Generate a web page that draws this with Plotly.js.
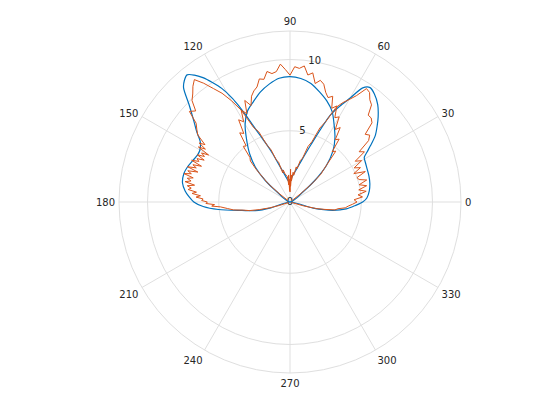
<!DOCTYPE html>
<html><head><meta charset="utf-8">
<script src="https://cdn.plot.ly/plotly-3.0.1.min.js"></script>
<style>html,body{margin:0;padding:0;background:#fff}#chart{width:560px;height:420px}</style>
</head><body><div id="chart"></div>
<script>
// Smooth pattern (blue): wings and central lobe
const blueWingTheta = [-18,-15,-11,-7,-3,0,3,8,13,18,24,28,31,33,35,38,41,44,48,52,55,57.5,60,62,65,70,75,80,85,90,95,100,105,110,112,114,116,117,118,119,121,123,125,127,129,131,133,136,140,143,146,150,153,157,161,165,170,174,177,180,183,186,190,194,197,200];
const blueWingR = [0,1.68,3.07,3.98,4.6,5.1,5.4,5.62,5.75,5.83,5.9,5.98,6.08,6.45,6.9,7.6,8.1,8.6,9.2,9.62,9.8,9.5,8.4,7.75,6.76,4.26,2.93,2.21,1.79,1.4,1.5,1.86,2.46,3.68,4.32,5.05,6.1,6.88,7.6,8.3,9.3,10.0,10.65,11.15,11.48,11.3,10.95,9.85,8.8,8.2,7.6,7.3,7.28,7.42,7.6,7.71,7.66,7.4,7.1,6.75,6.1,5.05,3.42,2.51,1.4,0];
const blueLobeTheta = [36,38,41,45,50,55,60,65,70,75,80,85,90,95,100,105,110,115,120,125,130,135,139,142,144];
const blueLobeR = [0,1.2,2.3,3.6,4.7,5.5,6.2,7.0,7.55,8.0,8.45,8.7,8.8,8.72,8.4,8.0,7.5,7.05,6.3,5.3,4.4,3.4,2.3,1.2,0];

// Noisy measurement (orange)
const redWingTheta = [-18,-16,-14,-12,-10,-8,-6,-4,-2,0,2,4,6,8,10,12,14,16,18,20,22,24,26,28,30,32,34,36,38,40,42,44,46,48,50,52,54,56,58,60,62,64,66,68,70,72,74,76,78,80,82,84,86,87,88,89,90,91,92,93,94,96,98,100,102,104,106,108,110,112,114,116,118,120,122,124,126,128,130,132,134,136,138,140,142,144,146,147,148,149,150,151,152,153,154,155,156,157,158,159,160,161,162,163,164,165,166,167,168,169,170,171,172,173,174,175,176,177,178,179,180,181,182,183,184,186,188,190,192,194,196,198,200];
const redWingR = [0.1,1.0,1.9,2.5,3.2,3.4,3.9,4.1,4.4,4.7,4.5,5.1,4.8,5.4,4.9,5.5,5.0,5.6,5.1,5.0,5.7,4.9,5.5,5.1,5.8,5.4,6.3,6.0,7.0,7.3,7.1,8.0,8.2,8.2,8.9,9.1,9.5,9.6,8.8,8.3,7.9,7.4,6.2,5.6,4.5,4.1,3.2,3.0,2.4,2.5,1.9,2.1,1.5,1.9,1.1,2.3,0.7,1.6,0.8,1.9,1.2,1.8,1.9,2.0,2.3,2.1,2.9,3.1,3.9,4.3,5.4,5.8,7.3,8.2,9.0,9.6,10.3,10.9,10.6,10.2,9.9,9.2,9.5,8.6,8.3,8.0,7.2,7.6,7.0,7.5,6.6,7.1,6.8,7.3,6.7,7.2,7.0,7.5,6.7,7.3,7.0,7.6,6.8,7.5,7.2,7.7,7.0,7.4,7.1,7.5,6.8,7.3,7.0,7.2,6.6,6.9,6.3,6.6,6.1,6.2,5.8,5.9,5.3,5.5,4.9,4.4,4.0,3.3,2.9,2.2,1.5,0.8,0.1];
const redLobeTheta = [36,38,40,42,44,46,48,50,52,54,56,58,60,62,64,66,68,70,72,74,76,78,80,82,84,86,88,90,92,94,96,98,100,102,104,106,108,110,112,114,116,118,120,122,124,126,128,130,132,134,136,138,140,142,144];
const redLobeR = [0.2,1.0,2.1,2.9,3.3,3.9,4.8,4.6,5.6,5.4,6.3,6.0,6.9,6.7,7.5,7.2,8.0,7.8,8.1,8.6,8.8,8.5,9.2,9.0,9.6,9.4,9.5,8.9,9.3,9.7,9.2,9.1,9.3,8.8,8.9,8.4,8.2,7.9,7.3,7.8,6.9,7.3,6.5,6.8,5.8,6.0,5.0,5.1,4.2,4.0,3.3,2.5,2.0,1.0,0.2];

const angleTicks = [0,30,60,90,120,150,180,210,240,270,300,330];
const angleTickText = ['0','30','60','90','120','150','180','210','240','270','300','330'];
const radialTicks = [0,5,10];
const radialTickText = ['0','5','10'];
const radialLabelAngle = 80;

const blue = '#0072BD', orange = '#D95319', grid = '#dfdfdf', txt = '#262626';
const fontFam = 'DejaVu Sans, Liberation Sans, sans-serif';

const traces = [
  {type:'scatterpolar', mode:'text', r: radialTicks, theta: radialTicks.map(()=>radialLabelAngle),
   text: radialTickText, textposition:'middle center', textfont:{family:fontFam,size:10,color:txt}, hoverinfo:'skip'},
  {type:'scatterpolar', mode:'lines', r: blueWingR, theta: blueWingTheta, line:{color:blue,width:1.2,shape:'spline',smoothing:0.8}},
  {type:'scatterpolar', mode:'lines', r: blueLobeR, theta: blueLobeTheta, line:{color:blue,width:1.2,shape:'spline',smoothing:0.8}},
  {type:'scatterpolar', mode:'lines', r: redWingR, theta: redWingTheta, line:{color:orange,width:1}},
  {type:'scatterpolar', mode:'lines', r: redLobeR, theta: redLobeTheta, line:{color:orange,width:1}}
];

const layout = {
  width:560, height:420, showlegend:false,
  margin:{l:0,r:0,t:0,b:0},
  paper_bgcolor:'#fff',
  font:{family:fontFam,size:10,color:txt},
  polar:{
    domain:{x:[119/560,461/560], y:[47/420,389/420]},
    bgcolor:'#fff',
    radialaxis:{range:[0,12], tickvals:[5,10], showticklabels:false, ticks:'', showline:false,
      gridcolor:grid, gridwidth:1, angle:radialLabelAngle},
    angularaxis:{tickvals:angleTicks, ticktext:angleTickText, ticks:'outside', ticklen:1.5, tickcolor:'rgba(0,0,0,0)',
      rotation:0, direction:'counterclockwise',
      gridcolor:grid, gridwidth:1, linecolor:grid, linewidth:1, showline:true,
      tickfont:{family:fontFam,size:10,color:txt}}
  }
};
Plotly.newPlot('chart', traces, layout, {displayModeBar:false, staticPlot:true});
</script>
</body></html>
